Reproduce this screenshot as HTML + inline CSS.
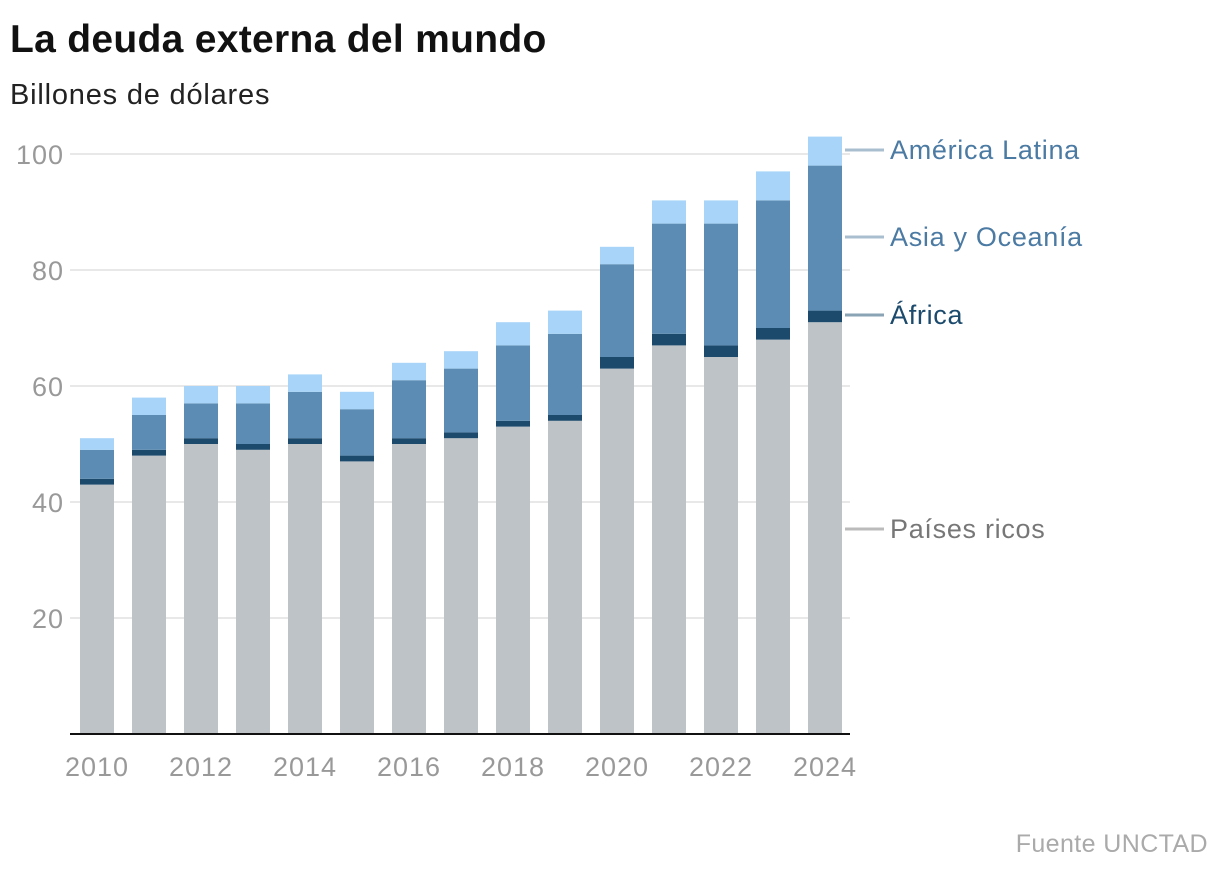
<!DOCTYPE html>
<html><head><meta charset="utf-8"><style>
body{margin:0;background:#fff;font-family:"Liberation Sans",sans-serif;}
</style></head><body>
<svg width="1220" height="872" xmlns="http://www.w3.org/2000/svg">
<text x="10" y="52" font-size="39" font-weight="bold" fill="#111" letter-spacing="0.3">La deuda externa del mundo</text>
<text x="10" y="104" font-size="29" fill="#222" letter-spacing="0.8">Billones de dólares</text>
<g id="grid"></g><g id="bars"></g><g id="axes"></g><g id="legend"></g>
<text x="1208" y="852" font-size="25" fill="#aaa" text-anchor="end" letter-spacing="0.4">Fuente UNCTAD</text>
</svg>
<script>
const years=[2010,2011,2012,2013,2014,2015,2016,2017,2018,2019,2020,2021,2022,2023,2024];
const rich=[43,48,50,49,50,47,50,51,53,54,63,67,65,68,71];
const africa=[1,1,1,1,1,1,1,1,1,1,2,2,2,2,2];
const asia=[5,6,6,7,8,8,10,11,13,14,16,19,21,22,25];
const latam=[2,3,3,3,3,3,3,3,4,4,3,4,4,5,5];
const yTicks=[20,40,60,80,100];
const xTickYears=[2010,2012,2014,2016,2018,2020,2022,2024];
const NS="http://www.w3.org/2000/svg";
const y=v=>734-v*5.8;
const x=i=>80+i*52;
const bw=34;
function mk(tag,attrs,parent){const e=document.createElementNS(NS,tag);for(const k in attrs)e.setAttribute(k,attrs[k]);document.getElementById(parent).appendChild(e);return e;}
yTicks.forEach(t=>{
 const l=mk('line',{x1:70,x2:850,y1:y(t),y2:y(t),stroke:'#e0e0e0','stroke-width':1.5},'grid');
 
 
 const tx=mk('text',{x:64,y:y(t)+10,'font-size':27,fill:'#999','text-anchor':'end','letter-spacing':1},'axes');tx.textContent=t;
 
 
});
const series=[[rich,'#bec3c7','rich'],[africa,'#1b4a6d','africa'],[asia,'#5c8cb3','asia'],[latam,'#a7d4f8','latam']];
years.forEach((yr,i)=>{
 let base=0;
 series.forEach(([arr,col,nm])=>{
  const v=arr[i];
  const r=mk('rect',{x:x(i),y:y(base+v),width:bw,height:v*5.8,fill:col},'bars');
  
  
  base+=v;
 });
});
xTickYears.forEach(yr=>{
 const i=years.indexOf(yr);
 const t=mk('text',{x:x(i)+bw/2,y:776,'font-size':27,fill:'#999','text-anchor':'middle','letter-spacing':1},'axes');t.textContent=yr;
 
 
});
const ax=mk('line',{x1:70,x2:850,y1:734,y2:734,stroke:'#111','stroke-width':2},'axes');


const legend=[['América Latina','#4b7aa3',150,'#a9bfd0'],['Asia y Oceanía','#4b7aa3',237,'#a9bfd0'],['África','#1b4a6d',315,'#8aa3b5'],['Países ricos','#777',529,'#bbb']];
legend.forEach(([lab,col,yy,lc])=>{
 const l=mk('line',{x1:845,x2:884,y1:yy,y2:yy,stroke:lc,'stroke-width':3},'legend');
 
 
 const t=mk('text',{x:890,y:yy+9,'font-size':27,fill:col,'letter-spacing':0.7},'legend');t.textContent=lab;
 
 
});
</script>
</body></html>
